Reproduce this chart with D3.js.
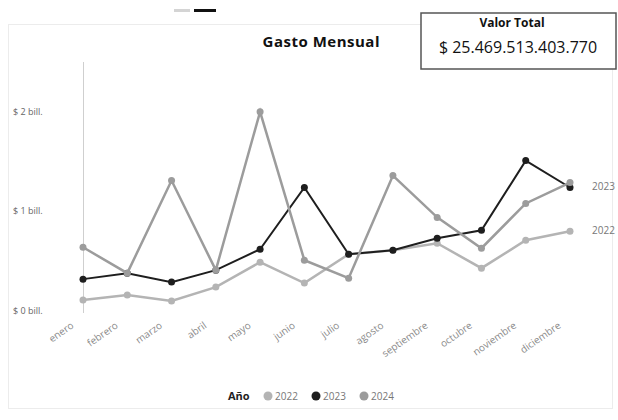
<!DOCTYPE html>
<html>
<head>
<meta charset="utf-8">
<script src="https://cdn.jsdelivr.net/npm/d3@7"></script>
<style>
  body { margin: 0; background: #fff; }
  text { font-family: "Open Sans", "Noto Sans", sans-serif; }
</style>
</head>
<body>
<div id="chart"></div>
<script>
var meses = ["enero", "febrero", "marzo", "abril", "mayo", "junio", "julio",
             "agosto", "septiembre", "octubre", "noviembre", "diciembre"];

// valores en billones de pesos
var gasto2022 = [0.11, 0.16, 0.10, 0.24, 0.49, 0.28, 0.57, 0.61, 0.68, 0.43, 0.71, 0.80];
var gasto2023 = [0.32, 0.38, 0.29, 0.41, 0.62, 1.24, 0.57, 0.61, 0.73, 0.81, 1.51, 1.24];
var gasto2024 = [0.64, 0.38, 1.31, 0.41, 2.00, 0.51, 0.33, 1.36, 0.94, 0.63, 1.08, 1.29];

var anios = ["2022", "2023", "2024"];
var yTicks = [0, 1, 2];
var valorTotal = "$ 25.469.513.403.770";

var width = 618, height = 420;

var colores = {"2022": "#b4b4b4", "2023": "#1e1e1e", "2024": "#9c9c9c"};

var series = [
    {anio: "2022", valores: gasto2022},
    {anio: "2023", valores: gasto2023},
    {anio: "2024", valores: gasto2024}
];

var svg = d3.select("#chart").append("svg")
    .attr("width", width)
    .attr("height", height);

// indicador de pagina arriba
svg.append("rect").attr("x", 174).attr("y", 9).attr("width", 16).attr("height", 3).attr("fill", "#d4d4d4");
svg.append("rect").attr("x", 194).attr("y", 9).attr("width", 22).attr("height", 3).attr("fill", "#111");

// marco del visual
svg.append("rect")
    .attr("x", 8.5).attr("y", 24.5)
    .attr("width", 604).attr("height", 384)
    .attr("fill", "none")
    .attr("stroke", "#ececec");

svg.append("text")
    .attr("x", 321).attr("y", 47)
    .attr("text-anchor", "middle")
    .attr("font-size", 15)
    .attr("font-weight", "bold")
    .attr("fill", "#111")
    .attr("textLength", 117)
    .text("Gasto Mensual");

var x = d3.scalePoint()
    .domain(meses)
    .range([83, 570]);

var y = d3.scaleLinear()
    .domain([0, 2.5])
    .range([311, 62]);

// eje y
svg.append("line")
    .attr("x1", 83.5).attr("x2", 83.5)
    .attr("y1", y(2.5)).attr("y2", y(0) + 2)
    .attr("stroke", "#cfcfcf");

svg.append("g").selectAll("text")
    .data(yTicks)
    .enter().append("text")
    .attr("x", 13)
    .attr("y", function(d) { return y(d) + 3; })
    .attr("font-size", 9)
    .attr("fill", "#666")
    .text(function(d) { return "$ " + d + " bill."; });

// eje x
var xAxis = svg.append("g")
    .attr("transform", "translate(0," + y(0) + ")")
    .call(d3.axisBottom(x).tickSize(0));
xAxis.select(".domain").remove();
xAxis.selectAll("text")
    .attr("font-size", 10)
    .attr("fill", "#8a8a8a")
    .attr("text-anchor", "end")
    .attr("x", 0).attr("y", 0).attr("dy", 0)
    .attr("transform", "translate(-9,16) rotate(-35)");

var line = d3.line()
    .x(function(d, i) { return x(meses[i]); })
    .y(function(d) { return y(d); });

var g = svg.selectAll(".serie")
    .data(series)
    .enter().append("g")
    .attr("class", "serie");

g.append("path")
    .attr("d", function(d) { return line(d.valores); })
    .attr("fill", "none")
    .attr("stroke", function(d) { return colores[d.anio]; })
    .attr("stroke-width", function(d) { return d.anio == "2023" ? 2 : 2.5; });

g.selectAll("circle")
    .data(function(d) { return d.valores.map(function(v, i) { return {anio: d.anio, v: v, mes: meses[i]}; }); })
    .enter().append("circle")
    .attr("cx", function(d) { return x(d.mes); })
    .attr("cy", function(d) { return y(d.v); })
    .attr("r", 3.5)
    .attr("fill", function(d) { return colores[d.anio]; });

// etiquetas al final de la linea
[gasto2023, gasto2022].forEach(function(vals, k) {
    svg.append("text")
        .attr("x", x("diciembre") + 22)
        .attr("y", y(vals[11]) + 3)
        .attr("font-size", 10)
        .attr("fill", "#777")
        .text(k == 0 ? "2023" : "2022");
});

// leyenda
var ley = svg.append("g").attr("transform", "translate(228,396)");
ley.append("text")
    .attr("x", 0).attr("y", 4)
    .attr("font-size", 11)
    .attr("font-weight", "bold")
    .attr("fill", "#222")
    .text("Año");
var item = ley.selectAll(".item")
    .data(anios)
    .enter().append("g")
    .attr("transform", function(d, i) { return "translate(" + (40 + i * 48) + ",0)"; });
item.append("circle")
    .attr("r", 4.5)
    .attr("fill", function(d) { return colores[d]; });
item.append("text")
    .attr("x", 7).attr("y", 4)
    .attr("font-size", 10)
    .attr("fill", "#777")
    .text(function(d) { return d; });

// tarjeta con el valor total
var card = svg.append("g");
card.append("rect")
    .attr("x", 421).attr("y", 13)
    .attr("width", 195).attr("height", 56)
    .attr("fill", "#fff")
    .attr("stroke", "#555")
    .attr("stroke-width", 1.5);
card.append("text")
    .attr("x", 512).attr("y", 27)
    .attr("text-anchor", "middle")
    .attr("font-size", 12)
    .attr("font-weight", "bold")
    .attr("fill", "#111")
    .text("Valor Total");
card.append("text")
    .attr("x", 518).attr("y", 53)
    .attr("text-anchor", "middle")
    .attr("font-size", 16)
    .attr("fill", "#111")
    .text(valorTotal);
</script>
</body>
</html>
